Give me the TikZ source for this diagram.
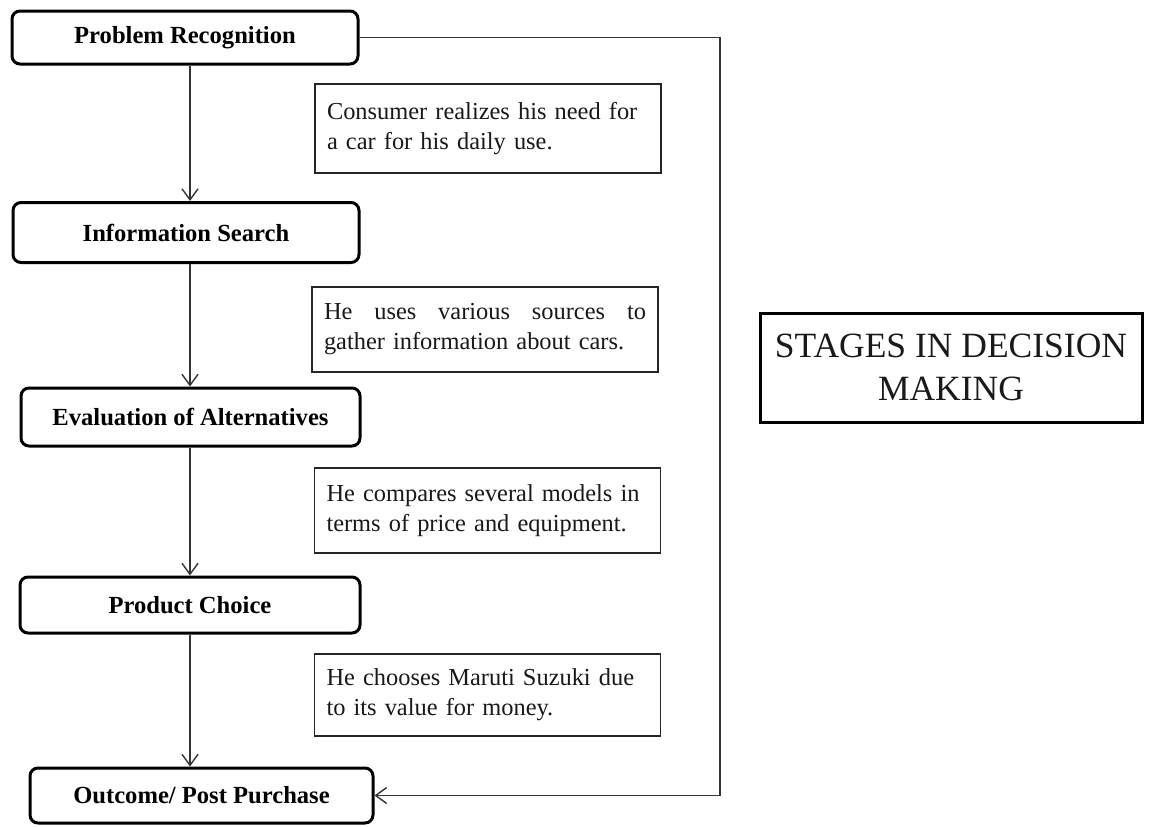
\documentclass[tikz,border=0pt]{standalone}
\usepackage{fontspec}
\setmainfont{Liberation Serif}
\usetikzlibrary{arrows.meta,positioning,calc}
\tikzset{
  flow/.style={-{Straight Barb[length=11pt,width=16pt,line width=1.4pt]},black!80,line width=1.5pt},
  stage/.style={draw=black,line width=3pt,rounded corners=8pt,fill=white,
                text=black,align=center,inner sep=0pt,
                font=\fontsize{24.6}{29}\selectfont\bfseries},
  note/.style={draw=black!85,line width=1.6pt,fill=white,text=black!90,
               text width=322pt,inner xsep=12pt,inner ysep=0pt,align=left,
               font=\fontsize{24.4}{30}\selectfont},
  titlebox/.style={draw=black,line width=3pt,text=black!90,align=center,inner sep=0pt,
                   font=\fontsize{35.5}{43}\selectfont},
}
\begin{document}
\begin{tikzpicture}[x=1pt,y=-1pt]
  \useasboundingbox (0,0) rectangle (1159,827);

  % stages of the decision
  \node[stage,minimum width=346pt,minimum height=53pt] (prob) at (185,37.5) {Problem Recognition};
  \node[stage,minimum width=346pt,minimum height=60pt] (info) at (186,232.5) {Information Search};
  \node[stage,minimum width=339pt,minimum height=58pt] (eval) at (190.5,417) {Evaluation of Alternatives};
  \node[stage,minimum width=340pt,minimum height=56pt] (choice) at (190,605) {Product Choice};
  \node[stage,minimum width=343pt,minimum height=55pt] (outcome) at (201.5,795.5) {Outcome/ Post Purchase};

  % what the consumer does
  \node[note,minimum height=89pt] (n1) at (488,128.5) {Consumer realizes his need for\\a car for his daily use.};
  \node[note,minimum height=85pt] (n2) at (485,329.5)
    {He\hfill uses\hfill various\hfill sources\hfill to\\gather information about cars.};
  \node[note,minimum height=85pt] (n3) at (487.5,510.5) {He compares several models in\\terms of price and equipment.};
  \node[note,minimum height=82pt] (n4) at (487.5,695) {He chooses Maruti Suzuki due\\to its value for money.};

  \node[titlebox,minimum width=382pt,minimum height=109pt] (title) at (951,367.5)
    {STAGES IN DECISION\\MAKING};

  \coordinate (spine) at (190,0);
  \coordinate (turn) at (720,795.5);

  \draw[flow] (prob.south -| spine) -- (info.north -| spine);
  \draw[flow] (info.south -| spine) -- (eval.north -| spine);
  \draw[flow] (eval.south -| spine) -- (choice.north -| spine);
  \draw[flow] (choice.south -| spine) -- (outcome.north -| spine);
  \draw[flow] (prob.east) -| (turn) -- (outcome.east);
\end{tikzpicture}
\end{document}
